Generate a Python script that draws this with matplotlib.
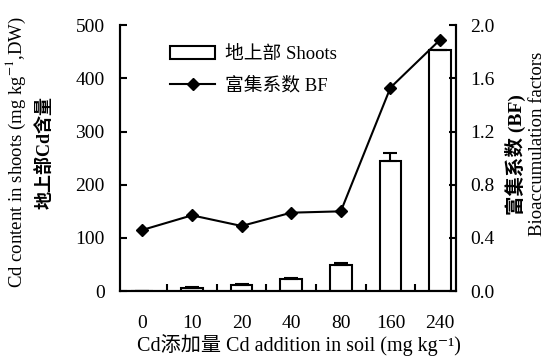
import matplotlib.pyplot as plt
import numpy as np

plt.rcParams['font.family'] = ['Liberation Serif', 'Noto Sans CJK SC', 'DejaVu Serif']
plt.rcParams['mathtext.fontset'] = 'stix'

CATEGORIES = ["0", "10", "20", "40", "80", "160", "240"]
SHOOTS = [0.5, 6, 12, 23, 50, 245, 454]
SHOOTS_ERR = [0, 1, 2, 2, 2, 15, 0]
BF = [0.46, 0.57, 0.49, 0.59, 0.60, 1.53, 1.89]

x = np.arange(len(CATEGORIES))

fig = plt.figure(figsize=(5.48, 3.59), dpi=100)
ax = fig.add_axes([0.219, 0.189, 0.613, 0.741])
ax2 = ax.twinx()

bars = ax.bar(x, SHOOTS, 0.44, color="white", edgecolor="black", linewidth=1.5,
              zorder=2)
ax.errorbar(x, SHOOTS, yerr=[np.zeros(len(x)), SHOOTS_ERR], fmt="none",
            ecolor="black", elinewidth=1.5, capsize=5, capthick=1.5, zorder=3)
line, = ax2.plot(x, BF, color="black", lw=1.5, marker="D", ms=6)

ax.set_xlim(-0.45, 6.32)
ax.set_ylim(0, 500)
ax2.set_ylim(0, 2.0)
ax.set_yticks(range(0, 501, 100))
ax2.set_yticks([0.0, 0.4, 0.8, 1.2, 1.6, 2.0])
ax2.set_yticklabels(["0.0", "0.4", "0.8", "1.2", "1.6", "2.0"])
ax.set_xticks(x)
ax.set_xticklabels(CATEGORIES)
ax.set_xticks(x[:-1] + 0.5, minor=True)

for a in (ax, ax2):
    a.spines["top"].set_visible(False)
    for s in a.spines.values():
        s.set_linewidth(1.5)
ax.tick_params(axis="y", direction="in", length=5, width=1.5, labelsize=14, pad=11)
ax2.tick_params(axis="y", direction="in", length=5, width=1.5, labelsize=14, pad=10)
ax.tick_params(axis="x", which="major", length=0, labelsize=14, pad=17)
ax.tick_params(axis="x", which="minor", direction="in", length=5, width=1.5)

fig.text(0.546, 0.038, "Cd添加量 Cd addition in soil (mg kg\u207b\u00b9)",
         ha="center", va="center", fontsize=14.5)
fig.text(0.029, 0.577, "Cd content in shoots (mg kg$^{-1}$,DW)", rotation=90,
         ha="center", va="center", fontsize=13.5)
fig.text(0.082, 0.575, "地上部Cd含量", rotation=90, ha="center", va="center",
         fontsize=13, fontweight="bold")
fig.text(0.94, 0.57, "富集系数 (BF)", rotation=90, ha="center", va="center",
         fontsize=14, fontweight="bold")
fig.text(0.98, 0.6, "Bioaccumulation factors", rotation=90, ha="center",
         va="center", fontsize=13.5)

ax.legend([bars, line], ["地上部 Shoots", "富集系数 BF"], loc="upper left",
          bbox_to_anchor=(0.1, 0.985), frameon=False, fontsize=13.5,
          handlelength=2.4, handletextpad=0.5, labelspacing=0.75)

fig.savefig("out.png", dpi=100)
